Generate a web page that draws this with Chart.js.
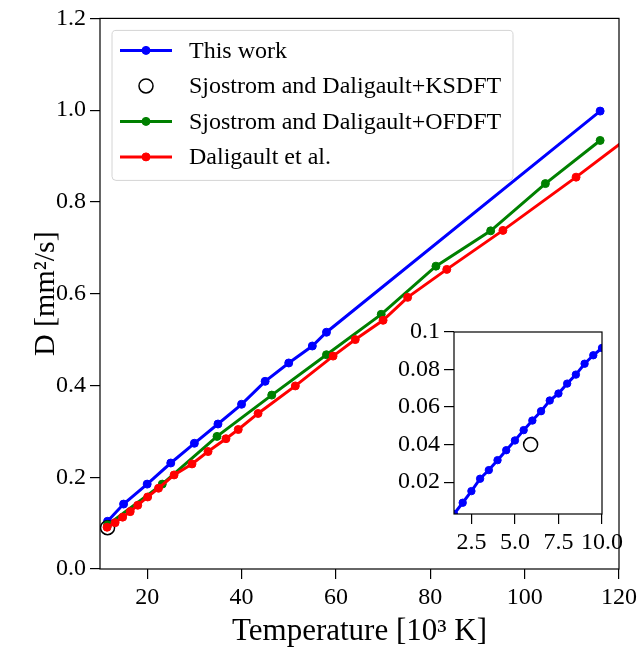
<!DOCTYPE html>
<html>
<head>
<meta charset="utf-8">
<script src="https://cdn.jsdelivr.net/npm/chart.js@4.4.1/dist/chart.umd.min.js"></script>
<style>
  html, body { margin: 0; padding: 0; background: #fff; }
  #wrap { position: relative; width: 641px; height: 650px; }
  #wrap canvas { position: absolute; left: 0; top: 0; }
</style>
</head>
<body>
<div id="wrap">
  <canvas id="mainChart" width="641" height="650"></canvas>
  <canvas id="insetChart" width="641" height="650"></canvas>
</div>
<script>
// Series names (legend order)
const seriesNames = ['This work', 'Sjostrom and Daligault+KSDFT', 'Sjostrom and Daligault+OFDFT', 'Daligault et al.'];

// Main panel: temperature [10^3 K] and D [mm^2/s]
const thisWorkT = [11.6, 15, 20, 25, 30, 35, 40, 45, 50, 55, 58, 116];
const thisWorkD = [0.104, 0.1415, 0.185, 0.231, 0.274, 0.316, 0.359, 0.409, 0.449, 0.486, 0.516, 0.998];

const ksdftT = [5.9, 11.6];
const ksdftD = [0.040, 0.090];

const ofdftT = [11.6, 23.2, 34.8, 46.4, 58.0, 69.6, 81.2, 92.8, 104.4, 116.0];
const ofdftD = [0.096, 0.185, 0.289, 0.379, 0.467, 0.555, 0.660, 0.737, 0.840, 0.934];

const daligaultT = [11.5, 13.2, 14.8, 16.4, 18.0, 20.1, 22.4, 25.7, 29.5, 32.9, 36.7, 39.3, 43.5, 51.4, 59.4, 64.1, 70.0, 75.2, 83.5, 95.4, 110.9, 124.0];
const daligaultD = [0.091, 0.101, 0.113, 0.125, 0.139, 0.157, 0.176, 0.205, 0.229, 0.256, 0.284, 0.304, 0.339, 0.399, 0.464, 0.500, 0.542, 0.592, 0.653, 0.738, 0.854, 0.956];

// Inset: low temperature part of this work
const insetT = [1.5, 2.0, 2.5, 3.0, 3.5, 4.0, 4.5, 5.0, 5.5, 6.0, 6.5, 7.0, 7.5, 8.0, 8.5, 9.0, 9.5, 10.0];
const insetD = [0.003, 0.009, 0.0152, 0.0218, 0.0264, 0.0317, 0.037, 0.0422, 0.0477, 0.0528, 0.0578, 0.0635, 0.0672, 0.0725, 0.0773, 0.0831, 0.0876, 0.0915];

// Tick values
const mainTicksX = [20, 40, 60, 80, 100, 120];
const mainTicksY = [0, 0.2, 0.4, 0.6, 0.8, 1.0, 1.2];
const insetTicksX = [2.5, 5.0, 7.5, 10.0];
const insetTicksY = [0.02, 0.04, 0.06, 0.08, 0.1];

const serif = "'Liberation Serif', 'DejaVu Serif', serif";

function pts(xs, ys) {
    return xs.map((x, i) => ({ x: x, y: ys[i] }));
}

// Box around the plot area (all four spines)
const framePlugin = {
    id: 'frame',
    beforeDraw(chart, args, opts) {
        if (!opts.fill) return;
        const a = chart.chartArea;
        chart.ctx.save();
        chart.ctx.fillStyle = opts.fill;
        chart.ctx.fillRect(a.left, a.top, a.width, a.height);
        chart.ctx.restore();
    },
    afterDraw(chart) {
        const { ctx, chartArea: a } = chart;
        ctx.save();
        ctx.strokeStyle = '#000';
        ctx.lineWidth = 1.2;
        ctx.strokeRect(a.left, a.top, a.width, a.height);
        ctx.restore();
    }
};

// Matplotlib-like legend box in the upper left
const boxLegendPlugin = {
    id: 'boxLegend',
    afterDraw(chart) {
        const { ctx, chartArea: a } = chart;
        const x0 = a.left + 12, y0 = a.top + 12, w = 401, h = 150;
        ctx.save();
        ctx.beginPath();
        ctx.roundRect(x0, y0, w, h, 4);
        ctx.fillStyle = 'rgba(255,255,255,0.8)';
        ctx.fill();
        ctx.strokeStyle = '#d4d4d4';
        ctx.lineWidth = 1;
        ctx.stroke();

        ctx.font = '24px ' + serif;
        ctx.textBaseline = 'middle';
        ctx.fillStyle = '#000';
        chart.data.datasets.forEach((ds, i) => {
            const y = y0 + 20 + i * 35.5;
            if (ds.showLine) {
                ctx.beginPath();
                ctx.moveTo(x0 + 8, y);
                ctx.lineTo(x0 + 60, y);
                ctx.strokeStyle = ds.borderColor;
                ctx.lineWidth = ds.borderWidth;
                ctx.stroke();
            }
            ctx.beginPath();
            ctx.arc(x0 + 34, y, ds.pointRadius, 0, Math.PI * 2);
            if (ds.pointBackgroundColor !== 'transparent') {
                ctx.fillStyle = ds.pointBackgroundColor;
                ctx.fill();
            }
            ctx.strokeStyle = ds.pointBorderColor;
            ctx.lineWidth = ds.pointBorderWidth;
            ctx.stroke();
            ctx.fillStyle = '#000';
            ctx.fillText(ds.label, x0 + 77, y + 1);
        });
        ctx.restore();
    }
};

function lineSet(label, data, color, order, radius) {
    return {
        label: label,
        data: data,
        showLine: true,
        borderColor: color,
        borderWidth: 3,
        pointRadius: radius,
        pointBackgroundColor: color,
        pointBorderColor: color,
        pointBorderWidth: 1,
        pointHoverRadius: radius,
        order: order,
        clip: 0
    };
}

function axis(min, max, tickValues, fmt, size, title) {
    return {
        type: 'linear',
        min: min,
        max: max,
        afterBuildTicks: s => { s.ticks = tickValues.map(v => ({ value: v })); },
        ticks: {
            autoSkip: false,
            maxRotation: 0,
            color: '#000',
            padding: 4,
            font: { family: serif, size: 24 },
            callback: fmt
        },
        grid: { display: true, drawOnChartArea: false, drawTicks: true, tickLength: 10, color: '#000', lineWidth: 1.2 },
        border: { display: false },
        title: title,
        afterFit: s => {
            if (s.isHorizontal()) s.height = size; else s.width = size;
        }
    };
}

document.addEventListener('DOMContentLoaded', function() {
    Chart.defaults.font.family = serif;

    new Chart(document.getElementById('mainChart'), {
        type: 'scatter',
        data: {
            datasets: [
                lineSet(seriesNames[0], pts(thisWorkT, thisWorkD), '#0000ff', 3, 4),
                {
                    label: seriesNames[1],
                    data: pts(ksdftT, ksdftD),
                    showLine: false,
                    pointRadius: 7,
                    pointBackgroundColor: 'transparent',
                    pointBorderColor: '#000',
                    pointBorderWidth: 1.5,
                    order: 2,
                    clip: 0
                },
                lineSet(seriesNames[2], pts(ofdftT, ofdftD), '#008000', 1, 4),
                lineSet(seriesNames[3], pts(daligaultT, daligaultD), '#ff0000', 0, 4)
            ]
        },
        options: {
            responsive: false,
            animation: false,
            events: [],
            layout: { padding: { left: 0, top: 18, right: 18, bottom: 0 } },
            plugins: { legend: { display: false }, tooltip: { enabled: false }, frame: {} },
            scales: {
                x: axis(10, 120, mainTicksX, v => String(v), 81, {
                    display: true, text: 'Temperature [10³ K]', color: '#000',
                    font: { family: serif, size: 31 }, padding: { top: 0, bottom: 0 }
                }),
                y: axis(0, 1.2, mainTicksY, v => v.toFixed(1), 100, {
                    display: true, text: 'D [mm²/s]', color: '#000',
                    font: { family: serif, size: 30 }, padding: { top: 28, bottom: 0 }
                })
            }
        },
        plugins: [framePlugin, boxLegendPlugin]
    });

    new Chart(document.getElementById('insetChart'), {
        type: 'scatter',
        data: {
            datasets: [
                lineSet(seriesNames[0], pts(insetT, insetD), '#0000ff', 1, 3.7),
                {
                    label: seriesNames[1],
                    data: pts(ksdftT, ksdftD),
                    showLine: false,
                    pointRadius: 7,
                    pointBackgroundColor: 'transparent',
                    pointBorderColor: '#000',
                    pointBorderWidth: 1.5,
                    order: 0,
                    clip: 0
                }
            ]
        },
        options: {
            responsive: false,
            animation: false,
            events: [],
            layout: { padding: { left: 380, top: 332, right: 39, bottom: 96 } },
            plugins: { legend: { display: false }, tooltip: { enabled: false }, frame: { fill: '#fff' } },
            scales: {
                x: axis(1.5, 10, insetTicksX, v => v.toFixed(1), 40, { display: false }),
                y: axis(0.003, 0.1, insetTicksY, v => String(v), 74, { display: false })
            }
        },
        plugins: [framePlugin]
    });
});
</script>
</body>
</html>
